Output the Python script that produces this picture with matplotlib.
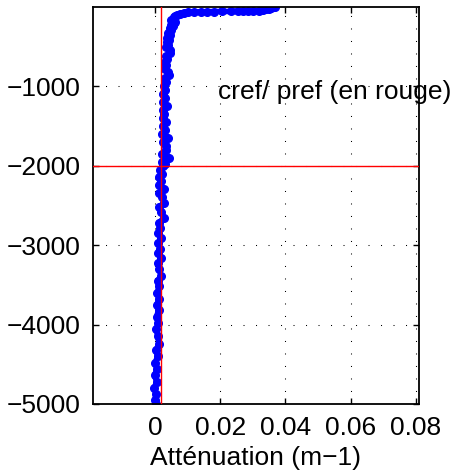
import matplotlib.pyplot as plt
import numpy as np

# profil d'atténuation (profondeur en m, atténuation en m-1)
depth = [0, -8, -15, -25, -35, -45, -50, -55, -58, -60, -60, -61, -61, -62, -63,
         -65, -68, -72, -78, -88, -100, -115, -130, -150, -170, -190, -210, -230,
         -250, -270, -300, -330, -360, -390, -420, -450, -480, -510, -540, -580,
         -620, -660, -700, -740, -780, -820, -860, -900, -950, -1000, -1050, -1100,
         -1150, -1200, -1250, -1300, -1350, -1400, -1450, -1500, -1550, -1600,
         -1650, -1700, -1750, -1800, -1850, -1900, -1950, -1975, -2000, -2050,
         -2100, -2150, -2200, -2250, -2300, -2350, -2400, -2470, -2520, -2580,
         -2660, -2720, -2780, -2850, -2910, -2970, -3050, -3100, -3165, -3230,
         -3300, -3390, -3450, -3520, -3600, -3680, -3750, -3820, -3900, -3980,
         -4060, -4150, -4250, -4320, -4400, -4480, -4560, -4640, -4720, -4800,
         -4880, -4950, -5000]
atten = [0.0367, 0.0363, 0.0357, 0.0350, 0.0342, 0.0332, 0.0318, 0.0300, 0.0284,
         0.0270, 0.0254, 0.0232, 0.0207, 0.0180, 0.0160, 0.0140, 0.0120, 0.0102,
         0.0088, 0.0076, 0.0068, 0.0063, 0.0058, 0.0055, 0.0050, 0.0062, 0.0060,
         0.0050, 0.0056, 0.0045, 0.0048, 0.0040, 0.0046, 0.0038, 0.0043, 0.0036,
         0.0040, 0.0034, 0.0045, 0.0047, 0.0034, 0.0038, 0.0031, 0.0035, 0.0030,
         0.0039, 0.0043, 0.0030, 0.0033, 0.0028, 0.0031, 0.0026, 0.0030, 0.0026,
         0.0037, 0.0025, 0.0029, 0.0024, 0.0034, 0.0024, 0.0030, 0.0023, 0.0040,
         0.0024, 0.0034, 0.0035, 0.0022, 0.0042, 0.0022, 0.0031, 0.0024, 0.0016,
         0.0022, 0.0013, 0.0020, 0.0014, 0.0028, 0.0013, 0.0021, 0.0028, 0.0012,
         0.0020, 0.0028, 0.0011, 0.0017, 0.0010, 0.0020, 0.0010, 0.0016, 0.0009,
         0.0020, 0.0009, 0.0014, 0.0018, 0.0008, 0.0013, 0.0007, 0.0012, 0.0006,
         0.0011, 0.0005, 0.0010, 0.0004, 0.0009, 0.0012, 0.0003, 0.0008, 0.0001,
         0.0006, -0.0001, 0.0005, -0.0002, 0.0004, 0.0000, 0.0002]

cref = 0.002
pref = -2000

xticks = [0, 0.02, 0.04, 0.06, 0.08]
xticklabels = ['0', '0.02', '0.04', '0.06', '0.08']
yticks = [-5000, -4000, -3000, -2000, -1000]

plt.rcParams['font.family'] = ['Liberation Sans', 'DejaVu Sans']
fs = 19

fig = plt.figure(figsize=(4.57, 4.74), dpi=100)
ax = fig.add_axes([0.2035, 0.1477, 0.7133, 0.8375])

# profil
ax.plot(atten, depth, '-o', color=(0, 0, 1), lw=4, ms=5.5, mec=(0, 0, 1), zorder=2)

# cref / pref
ax.axvline(cref, color='r', lw=1, zorder=3)
ax.axhline(pref, color='r', lw=1, zorder=3)

ax.set_xlim(-0.019, 0.081)
ax.set_ylim(-5000, -5)
ax.set_xticks(xticks)
ax.set_xticklabels(xticklabels)
ax.set_yticks(yticks)

ax.grid(True, color='k', linestyle=(0, (1, 11)), linewidth=0.75)
ax.tick_params(direction='in', top=True, right=True, length=4, width=1,
               labelsize=fs, pad=9)
for s in ax.spines.values():
    s.set_linewidth(1.3)

ax.text(0.0193, -1076, 'cref/ pref (en rouge)', fontsize=fs, va='center',
        ha='left', clip_on=False)
ax.set_xlabel('Atténuation (m−1)', fontsize=fs, labelpad=4)

fig.savefig('out.png', dpi=100)
